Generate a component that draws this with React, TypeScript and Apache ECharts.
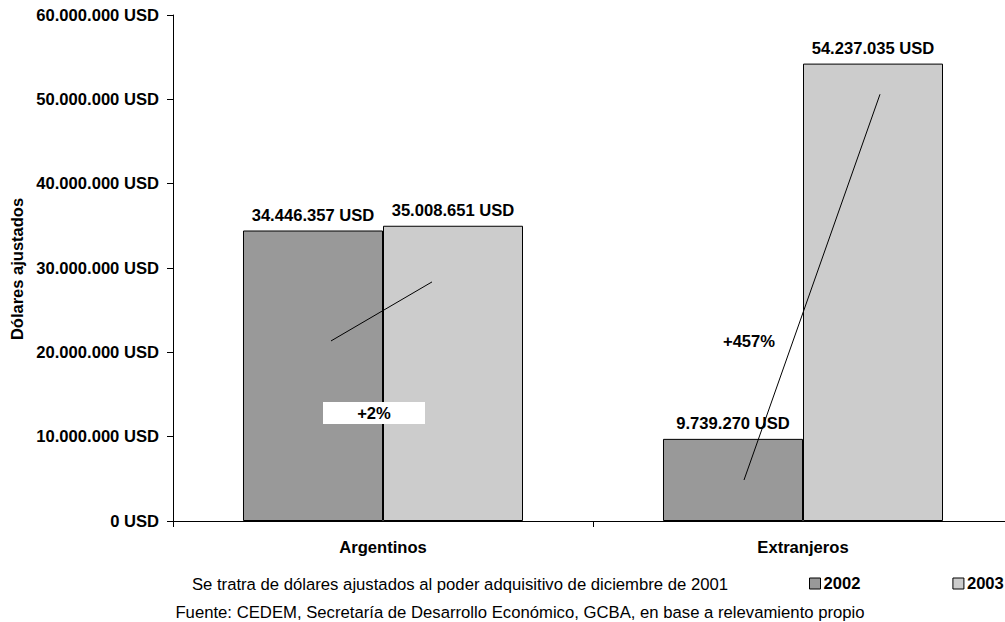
import React, { useEffect, useRef } from "react";
import * as echarts from "echarts";

const categories = ["Argentinos", "Extranjeros"];
const seriesNames = ["2002", "2003"];
const values2002 = [34446357, 9739270];
const values2003 = [35008651, 54237035];
const yTicks = [0, 10000000, 20000000, 30000000, 40000000, 50000000, 60000000];
const growthLabels = ["+2%", "+457%"];
const footerLines = [
  "Se tratra de dólares ajustados al poder adquisitivo de diciembre de 2001",
  "Fuente: CEDEM, Secretaría de Desarrollo Económico, GCBA, en base a relevamiento propio",
];
const axisTitle = "Dólares ajustados";

const FONT = "'Liberation Sans', Arial, Helvetica, sans-serif";
const BOLD_SIZE = 16.6;

// 1.234.567 USD style
const fmtUSD = (v: number) =>
  String(Math.round(v)).replace(/\B(?=(\d{3})+(?!\d))/g, ".") + " USD";

export default function App() {
  const ref = useRef<HTMLDivElement>(null);

  useEffect(() => {
    if (!ref.current) return;
    const chart = echarts.init(ref.current, undefined, { renderer: "svg" });

    const labelStyle = {
      show: true,
      position: "top" as const,
      distance: 7,
      color: "#000",
      fontFamily: FONT,
      fontWeight: "bold" as const,
      fontSize: BOLD_SIZE,
      formatter: (p: any) => fmtUSD(p.value),
    };

    chart.setOption({
      animation: false,
      backgroundColor: "#fff",
      // the plot runs slightly past the visible right edge
      grid: { left: 173, top: 15, width: 840, height: 506, containLabel: false },
      legend: {
        data: seriesNames,
        left: 809,
        top: 575,
        padding: 0,
        icon: "rect",
        itemWidth: 11,
        itemHeight: 11,
        itemGap: 92,
        itemStyle: { borderColor: "#000", borderWidth: 1 },
        textStyle: {
          color: "#000",
          fontFamily: FONT,
          fontWeight: "bold",
          fontSize: BOLD_SIZE,
          padding: [0, 0, 0, -2],
        },
      },
      xAxis: {
        type: "category",
        data: categories,
        axisLine: { lineStyle: { color: "#000", width: 1 } },
        axisTick: { show: true, length: 6, lineStyle: { color: "#000" } },
        axisLabel: { color: "#000", fontFamily: FONT, fontWeight: "bold", fontSize: BOLD_SIZE, margin: 18 },
        splitLine: { show: false },
      },
      yAxis: {
        type: "value",
        min: yTicks[0],
        max: yTicks[yTicks.length - 1],
        interval: yTicks[1] - yTicks[0],
        axisLine: { show: true, lineStyle: { color: "#000", width: 1 } },
        axisTick: { show: true, length: 6, lineStyle: { color: "#000" } },
        axisLabel: {
          color: "#000",
          fontFamily: FONT,
          fontWeight: "bold",
          fontSize: BOLD_SIZE,
          margin: 14,
          formatter: fmtUSD,
        },
        splitLine: { show: false },
      },
      series: [
        {
          name: seriesNames[0],
          type: "bar",
          data: values2002,
          barGap: "0%",
          barCategoryGap: "33.33%",
          itemStyle: { color: "#999999", borderColor: "#000", borderWidth: 1 },
          label: labelStyle,
        },
        {
          name: seriesNames[1],
          type: "bar",
          data: values2003,
          itemStyle: { color: "#cccccc", borderColor: "#000", borderWidth: 1 },
          label: labelStyle,
        },
      ],
    });

    // Growth lines and percentage notes, anchored to the category centres
    const px = (cat: number, val: number) =>
      chart.convertToPixel({ gridIndex: 0 }, [cat, val]) as number[];

    const a0 = px(0, 21350000);
    const a1 = px(0, 28350000);
    const b0 = px(1, 4860000);
    const b1 = px(1, 50600000);
    const boxA = px(0, 12800000);
    const noteB = px(1, 21300000);

    chart.setOption({
      graphic: [
        {
          type: "line",
          shape: { x1: a0[0] - 52, y1: a0[1], x2: a1[0] + 49, y2: a1[1] },
          style: { stroke: "#000", lineWidth: 1 },
          z: 100,
        },
        {
          type: "line",
          shape: { x1: b0[0] - 59, y1: b0[1], x2: b1[0] + 77, y2: b1[1] },
          style: { stroke: "#000", lineWidth: 1 },
          z: 100,
        },
        {
          type: "rect",
          shape: { x: boxA[0] - 60, y: boxA[1] - 11, width: 102, height: 22 },
          style: { fill: "#fff" },
          z: 101,
        },
        {
          type: "text",
          x: boxA[0] - 9,
          y: boxA[1],
          style: {
            text: growthLabels[0],
            fill: "#000",
            font: `bold ${BOLD_SIZE}px ${FONT}`,
            align: "center",
            verticalAlign: "middle",
          },
          z: 102,
        },
        {
          type: "text",
          x: noteB[0] - 54,
          y: noteB[1],
          style: {
            text: growthLabels[1],
            fill: "#000",
            font: `bold ${BOLD_SIZE}px ${FONT}`,
            align: "center",
            verticalAlign: "middle",
          },
          z: 102,
        },
        {
          type: "text",
          x: 17,
          y: 269,
          rotation: Math.PI / 2,
          style: {
            text: axisTitle,
            fill: "#000",
            font: `bold 16.5px ${FONT}`,
            align: "center",
            verticalAlign: "middle",
          },
        },
        {
          type: "text",
          x: 460,
          y: 584,
          style: {
            text: footerLines[0],
            fill: "#000",
            font: `16.7px ${FONT}`,
            align: "center",
            verticalAlign: "middle",
          },
        },
        {
          type: "text",
          x: 520,
          y: 612.5,
          style: {
            text: footerLines[1],
            fill: "#000",
            font: `16.7px ${FONT}`,
            align: "center",
            verticalAlign: "middle",
          },
        },
      ],
    });

    return () => chart.dispose();
  }, []);

  return (
    <div
      style={{
        position: "absolute",
        left: 0,
        top: 0,
        width: 1005,
        height: 622,
        overflow: "hidden",
        background: "#fff",
      }}
    >
      <div ref={ref} style={{ width: 1030, height: 622 }} />
    </div>
  );
}
